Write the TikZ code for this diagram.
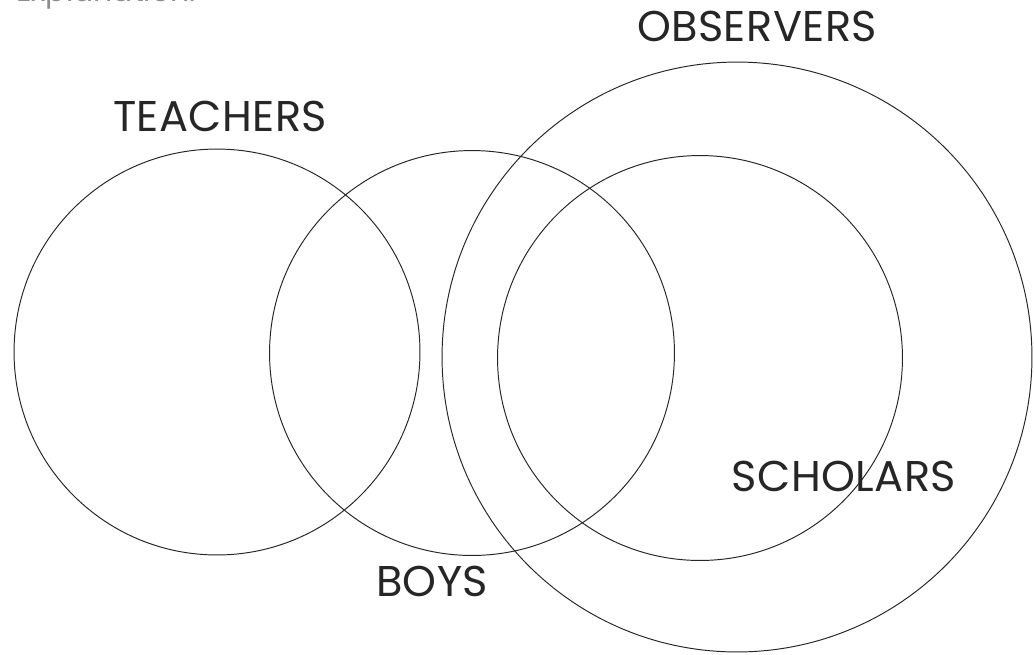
\documentclass[tikz,border=0pt]{standalone}
\usepackage{fontspec}
\setmainfont{Poppins}
\usepackage{xcolor}
\definecolor{lineg}{gray}{0.15}
\definecolor{noteg}{gray}{0.55}
\usepackage{tikz}
\usetikzlibrary{positioning}

\begin{document}
\begin{tikzpicture}[
  x=0.02cm, y=-0.02cm,
  set/.style={
    circle, draw=lineg, line width=0.55pt,
    inner sep=0pt, outer sep=0pt,
    minimum size=#1
  },
  lbl/.style={font=\fontsize{24.5}{28}\selectfont\addfontfeature{LetterSpace=1}, text=black!85, inner sep=0pt}
]
\useasboundingbox (0,0) rectangle (1034,654);
\clip (0,0) rectangle (1034,654);
\fill[white] (0,0) rectangle (1034,654);

% the four sets
\node[set=8.12cm] (teachers) at (217,352) {};
\node[set=8.1cm] (boys) at (472,353) {};
\node[set=11.8cm] (observers) at (737,357) {};
\node[set=8.1cm] (scholars) at (700,358) {};

% names
\node[lbl] (tlabel) at (220,116) {TEACHERS};
\node[lbl] (olabel) at (757,26) {OBSERVERS};
\node[lbl] (blabel) at (432,581) {BOYS};
\node[lbl] (slabel) at (844,476) {SCHOLARS};

% cut-off heading
\node[font=\fontsize{17}{20}\selectfont, text=noteg, anchor=base west, inner sep=0pt]
  (note) at (16,1) {Explanation:};
\end{tikzpicture}
\end{document}
